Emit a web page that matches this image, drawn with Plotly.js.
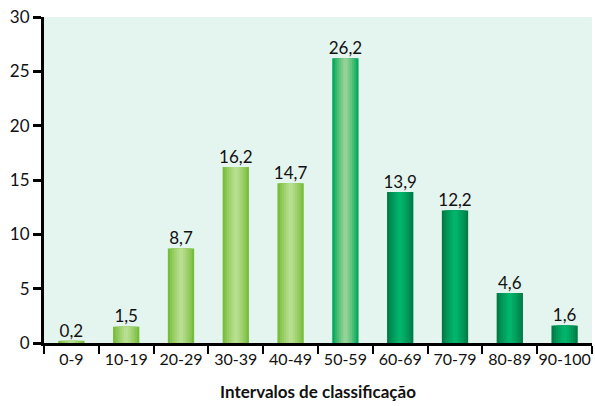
<!DOCTYPE html>
<html>
<head>
<meta charset="utf-8">
<script src="https://cdn.plot.ly/plotly-3.0.1.min.js"></script>
<style>html,body{margin:0;padding:0;background:#fff;}#chart{width:595px;height:406px;}</style>
</head>
<body>
<div id="chart"></div>
<script>
// Data
const categories = ['0-9','10-19','20-29','30-39','40-49','50-59','60-69','70-79','80-89','90-100'];
const values = [0.2, 1.5, 8.7, 16.2, 14.7, 26.2, 13.9, 12.2, 4.6, 1.6];
const labels = ['0,2','1,5','8,7','16,2','14,7','26,2','13,9','12,2','4,6','1,6'];
const groups = ['light','light','light','light','light','mid','dark','dark','dark','dark'];
const yTicks = [0, 5, 10, 15, 20, 25, 30];

// Styles (gradient emulation)
const palette = {
  light: {edge: [118, 189, 58], center: [184, 222, 144]},
  mid:   {edge: [0, 170, 88],   center: [150, 210, 150]},
  dark:  {edge: [0, 124, 70],   center: [0, 180, 108]}
};
const widths = [0.48, 0.40, 0.32, 0.24, 0.16, 0.08];
function mix(a, b, t) {
  return 'rgb(' + a.map((v, i) => Math.round(v + (b[i] - v) * t)).join(',') + ')';
}
const traces = widths.map((w, k) => {
  const t = k / (widths.length - 1);
  return {
    type: 'bar',
    x: categories,
    y: values,
    width: w,
    marker: {color: groups.map(g => mix(palette[g].edge, palette[g].center, Math.pow(t, 0.8))), line: {width: 0}},
    hoverinfo: 'skip',
    showlegend: false
  };
});
traces.push({
  type: 'scatter',
  mode: 'text',
  x: categories,
  y: values,
  text: labels,
  textposition: 'top center',
  textfont: {family: 'Lato, sans-serif', size: 17, color: '#111'},
  cliponaxis: false,
  hoverinfo: 'skip',
  showlegend: false
});

const layout = {
  width: 595, height: 406,
  margin: {l: 44, r: 3, t: 17, b: 63},
  paper_bgcolor: '#ffffff',
  plot_bgcolor: '#e4f4ee',
  barmode: 'overlay',
  font: {family: 'Lato, sans-serif', size: 16, color: '#111'},
  xaxis: {
    type: 'category',
    categoryorder: 'array',
    categoryarray: categories,
    showline: true, linecolor: '#000', linewidth: 3,
    ticks: 'outside', tickson: 'boundaries', ticklen: 8, tickwidth: 2, tickcolor: '#000',
    tickangle: 0,
    showgrid: false, zeroline: false,
    tickfont: {family: 'Lato, sans-serif', size: 16, color: '#111'},
    title: {text: '<b>Intervalos de classificação</b>', font: {family: 'Lato, sans-serif', size: 17, color: '#111'}, standoff: 19}
  },
  yaxis: {
    range: [0, 30],
    tickvals: yTicks,
    showline: true, linecolor: '#000', linewidth: 3,
    ticks: 'outside', ticklen: 8, tickwidth: 3, tickcolor: '#000',
    showgrid: false, zeroline: false,
    tickfont: {family: 'Lato, sans-serif', size: 17, color: '#111'}
  }
};
Plotly.newPlot('chart', traces, layout, {displayModeBar: false, staticPlot: true});
</script>
</body>
</html>
